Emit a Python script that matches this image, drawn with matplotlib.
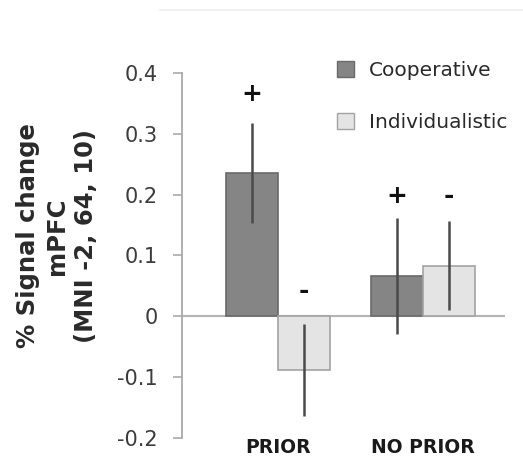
import matplotlib
matplotlib.use("Agg")
import matplotlib.pyplot as plt
import numpy as np
from matplotlib.lines import Line2D
from matplotlib.patches import Patch

# data
conditions = ["PRIOR", "NO PRIOR"]
coop_vals = [0.236, 0.066]
coop_err = [0.082, 0.095]
indiv_vals = [-0.088, 0.083]
indiv_err = [0.076, 0.073]
coop_marks = ["+", "+"]
indiv_marks = ["-", "-"]
coop_mark_y = [0.366, 0.198]
indiv_mark_y = [0.041, 0.198]

dark = "#858585"
dark_edge = "#6a6a6a"
light = "#e4e4e4"
light_edge = "#a3a3a3"
err_col = "#4a4a4a"

fig = plt.figure(figsize=(5.23, 4.57), dpi=100)
ax = fig.add_axes([182/523, 1-438/457, (505-182)/523, (438-73)/457])

x = np.arange(len(conditions))
w = 0.36
ax.bar(x - w/2, coop_vals, w, color=dark, edgecolor=dark_edge, linewidth=1.2, zorder=2)
ax.bar(x + w/2, indiv_vals, w, color=light, edgecolor=light_edge, linewidth=1.2, zorder=2)
ax.errorbar(x - w/2, coop_vals, yerr=coop_err, fmt="none", ecolor=err_col, elinewidth=1.8, capsize=0, zorder=3)
ax.errorbar(x + w/2, indiv_vals, yerr=indiv_err, fmt="none", ecolor=err_col, elinewidth=1.8, capsize=0, zorder=3)

for i in range(len(conditions)):
    ax.text(x[i] - w/2, coop_mark_y[i], coop_marks[i], ha="center", va="center",
            fontsize=18, fontweight="bold", color="#111111")
    ax.text(x[i] + w/2, indiv_mark_y[i], indiv_marks[i], ha="center", va="center",
            fontsize=18, fontweight="bold", color="#111111")

ax.axhline(0, color="#b5b5b5", linewidth=1.5, zorder=1)
ax.set_xlim(-0.662, 1.566)
ax.set_ylim(-0.2, 0.4)
ax.set_yticks([-0.2, -0.1, 0, 0.1, 0.2, 0.3, 0.4])
ax.set_yticklabels(["-0.2", "-0.1", "0", "0.1", "0.2", "0.3", "0.4"])
ax.set_xticks(x)
ax.set_xticklabels(conditions, fontsize=13.5, fontweight="bold", color="#1a1a1a")

for s in ["top", "right", "bottom"]:
    ax.spines[s].set_visible(False)
ax.spines["left"].set_color("#aaaaaa")
ax.spines["left"].set_linewidth(1.3)
ax.tick_params(axis="y", length=6.5, width=1.2, color="#aaaaaa", pad=11,
               labelsize=15, labelcolor="#3c3c3c")
ax.tick_params(axis="x", length=0, pad=0)

fig.text(57/523, 1-236/457, "% Signal change\nmPFC\n(MNI -2, 64, 10)", rotation=90,
         ha="center", va="center", multialignment="center", fontsize=17.5,
         fontweight="bold", color="#2a2a2a", linespacing=1.25)

handles = [Patch(facecolor=dark, edgecolor=dark_edge), Patch(facecolor=light, edgecolor=light_edge)]
fig.legend(handles, ["Cooperative", "Individualistic"], loc="upper left",
           bbox_to_anchor=(337/523, 1-61/457), frameon=False, fontsize=14.5,
           handlelength=0.85, handleheight=0.85, handletextpad=0.75,
           labelspacing=1.65, borderpad=0, borderaxespad=0, labelcolor="#2a2a2a")

fig.add_artist(Line2D([160/523, 1], [1-10/457, 1-10/457], color="#eeeeee", linewidth=1.2))

fig.savefig("out.png", dpi=100)
